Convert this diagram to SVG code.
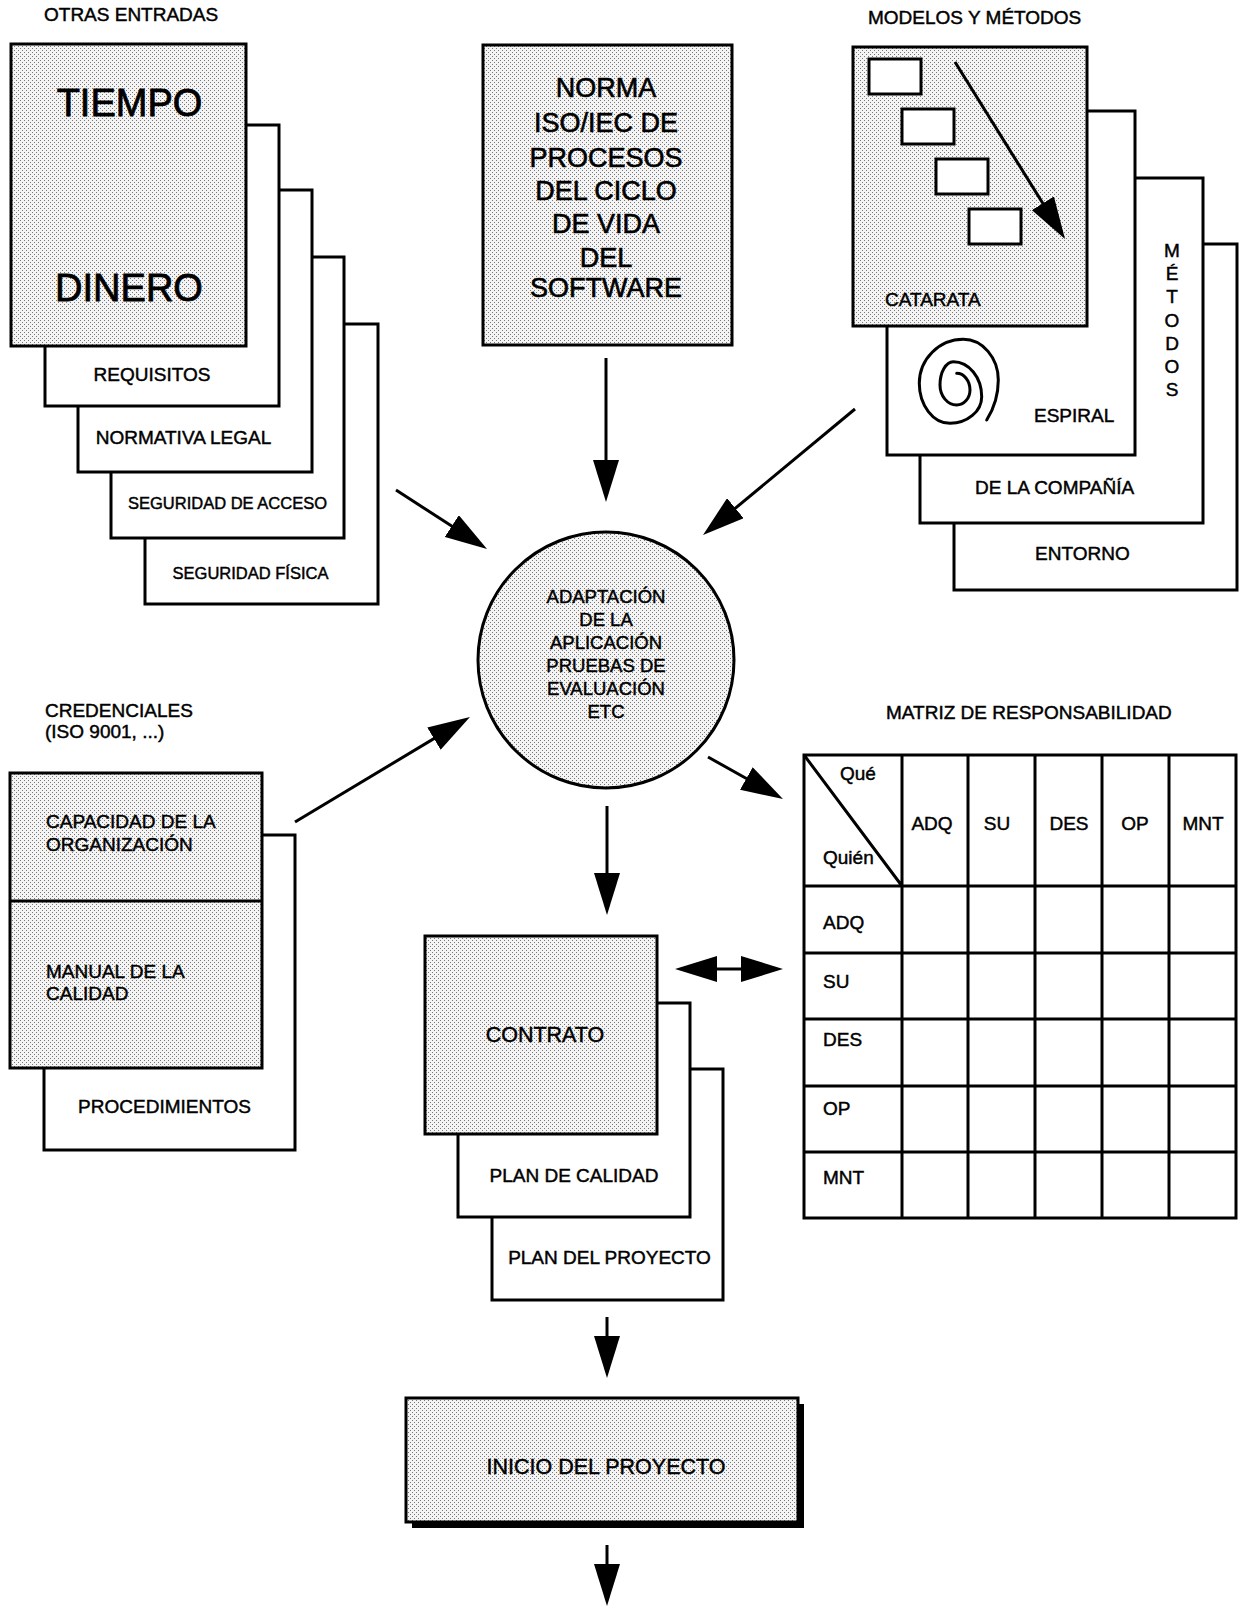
<svg xmlns="http://www.w3.org/2000/svg" width="1240" height="1607" viewBox="0 0 1240 1607">
<defs>
<pattern id="dots" width="4" height="4" patternUnits="userSpaceOnUse">
<rect width="4" height="4" fill="#f4f4f4"/>
<rect width="1" height="1" fill="#777"/>
<rect x="2" y="2" width="1" height="1" fill="#777"/>
</pattern>
<marker id="ah" markerUnits="userSpaceOnUse" markerWidth="42" markerHeight="26" viewBox="0 0 42 26" refX="34" refY="13" orient="auto-start-reverse">
<path d="M0,0 L42,13 L0,26 z" fill="#000"/>
</marker>
<style>
.box{fill:#fff;stroke:#000;stroke-width:3}
.shade{fill:url(#dots);stroke:#000;stroke-width:3}
.t{font-family:"Liberation Sans",Arial,Helvetica,sans-serif;font-size:19px;fill:#000;stroke:#000;stroke-width:0.45}
.c{text-anchor:middle}
.s{font-size:16.5px}
.big{font-size:38px;stroke-width:0.8}
.norma{font-size:27px;stroke-width:0.6}
.mid{font-size:21.5px}
.circ{font-size:18.5px}
.con{stroke:#000;stroke-width:3;fill:none;marker-end:url(#ah)}
.grid{stroke:#000;stroke-width:3;fill:none}
</style>
</defs>
<rect width="1240" height="1607" fill="#fff"/>

<g id="otras-entradas">
<text class="t" x="44" y="21">OTRAS ENTRADAS</text>
<g id="seguridad-fisica"><rect class="box" x="145" y="324" width="233" height="280"/><text class="t s c" x="250.5" y="579">SEGURIDAD FÍSICA</text></g>
<g id="seguridad-acceso"><rect class="box" x="111" y="257" width="233" height="281"/><text class="t s c" x="227.5" y="509">SEGURIDAD DE ACCESO</text></g>
<g id="normativa-legal"><rect class="box" x="78" y="190" width="234" height="282"/><text class="t c" x="183.5" y="444">NORMATIVA LEGAL</text></g>
<g id="requisitos"><rect class="box" x="45" y="125" width="234" height="281"/><text class="t c" x="152" y="381">REQUISITOS</text></g>
<g id="tiempo-dinero"><rect class="shade" x="11" y="44" width="235" height="302"/><text class="t big c" x="129.5" y="116">TIEMPO</text><text class="t big c" x="129" y="301">DINERO</text></g>
</g>

<g id="norma-iso">
<rect class="shade" x="483" y="45" width="249" height="300"/>
<text class="t norma c" x="606" y="96.7">NORMA</text>
<text class="t norma c" x="606" y="131.7">ISO/IEC DE</text>
<text class="t norma c" x="606" y="166.7">PROCESOS</text>
<text class="t norma c" x="606" y="200">DEL CICLO</text>
<text class="t norma c" x="606" y="233.3">DE VIDA</text>
<text class="t norma c" x="606" y="266.7">DEL</text>
<text class="t norma c" x="606" y="296.7">SOFTWARE</text>
</g>

<g id="modelos-metodos">
<text class="t" x="868" y="24">MODELOS Y MÉTODOS</text>
<g id="entorno"><rect class="box" x="954" y="244" width="283" height="346"/><text class="t" x="1035" y="560">ENTORNO</text></g>
<g id="compania"><rect class="box" x="920" y="178" width="283" height="345"/><text class="t" x="975" y="494">DE LA COMPAÑÍA</text>
<text class="t c" x="1172" y="257">M</text><text class="t c" x="1172" y="280">É</text><text class="t c" x="1172" y="303">T</text><text class="t c" x="1172" y="326.5">O</text><text class="t c" x="1172" y="350">D</text><text class="t c" x="1172" y="373">O</text><text class="t c" x="1172" y="396">S</text></g>
<g id="espiral"><rect class="box" x="887" y="111" width="248" height="344"/>
<path d="M986.7,420 C993,410 998.3,395 998.3,380 C998.3,357.9 982.6,339.3 963.3,339.3 C939.1,339.3 919.3,359.1 919.3,383.3 C919.3,405.3 933.1,423.3 950,423.3 C967.4,423.3 981.7,411.3 981.7,396.7 C981.7,377.4 968.9,361.7 953.3,361.7 C946,361.7 940,372.2 940,385 C940,396 947.5,405 956.7,405 C964,405 970,398.3 970,390 C970,380.8 964,373.3 956.7,373.3" fill="none" stroke="#000" stroke-width="3" stroke-linecap="round"/>
<text class="t" x="1034" y="422">ESPIRAL</text></g>
<g id="catarata"><rect class="shade" x="853" y="47" width="234" height="279"/>
<rect class="box" x="869" y="59" width="52" height="35"/>
<rect class="box" x="902" y="109" width="52" height="35"/>
<rect class="box" x="936" y="159" width="52" height="35"/>
<rect class="box" x="969" y="209" width="52" height="35"/>
<line class="con" x1="955" y1="62" x2="1060.8" y2="232.2"/>
<text class="t" x="885" y="306">CATARATA</text></g>
</g>

<g id="adaptacion">
<circle class="shade" cx="606" cy="660" r="128"/>
<text class="t circ c" x="606" y="603">ADAPTACIÓN</text>
<text class="t circ c" x="606" y="626">DE LA</text>
<text class="t circ c" x="606" y="649">APLICACIÓN</text>
<text class="t circ c" x="606" y="672">PRUEBAS DE</text>
<text class="t circ c" x="606" y="695">EVALUACIÓN</text>
<text class="t circ c" x="606" y="718">ETC</text>
</g>

<g id="credenciales">
<text class="t" x="45" y="717">CREDENCIALES</text>
<text class="t" x="45" y="738">(ISO 9001, ...)</text>
<g id="procedimientos"><rect class="box" x="44" y="835" width="251" height="315"/><text class="t c" x="164.5" y="1113">PROCEDIMIENTOS</text></g>
<g id="capacidad-manual"><rect class="shade" x="10" y="773" width="252" height="295"/><line x1="10" y1="901" x2="262" y2="901" stroke="#000" stroke-width="3"/>
<text class="t" x="46" y="828">CAPACIDAD DE LA</text>
<text class="t" x="46" y="851">ORGANIZACIÓN</text>
<text class="t" x="46" y="978">MANUAL DE LA</text>
<text class="t" x="46" y="1000">CALIDAD</text></g>
</g>

<g id="matriz">
<text class="t" x="886" y="719">MATRIZ DE RESPONSABILIDAD</text>
<rect class="grid" x="804" y="755" width="432" height="463"/>
<path class="grid" d="M902,755V1218 M968,755V1218 M1035,755V1218 M1102,755V1218 M1169,755V1218 M804,886H1236 M804,953H1236 M804,1019H1236 M804,1086H1236 M804,1152H1236 M804,755L902,886"/>
<text class="t" x="840" y="780">Qué</text>
<text class="t" x="823" y="864">Quién</text>
<text class="t c" x="932" y="830">ADQ</text>
<text class="t c" x="997" y="830">SU</text>
<text class="t c" x="1069" y="830">DES</text>
<text class="t c" x="1135" y="830">OP</text>
<text class="t c" x="1203" y="830">MNT</text>
<text class="t" x="823" y="929">ADQ</text>
<text class="t" x="823" y="988">SU</text>
<text class="t" x="823" y="1046">DES</text>
<text class="t" x="823" y="1115">OP</text>
<text class="t" x="823" y="1184">MNT</text>
</g>

<g id="contrato-planes">
<g id="plan-proyecto"><rect class="box" x="492" y="1069" width="231" height="231"/><text class="t c" x="609.5" y="1264">PLAN DEL PROYECTO</text></g>
<g id="plan-calidad"><rect class="box" x="458" y="1003" width="232" height="214"/><text class="t c" x="574" y="1182">PLAN DE CALIDAD</text></g>
<g id="contrato"><rect class="shade" x="425" y="936" width="232" height="198"/><text class="t mid c" x="545" y="1042">CONTRATO</text></g>
</g>

<g id="inicio-proyecto">
<rect x="412" y="1404" width="392" height="124" fill="#000"/>
<rect class="shade" x="406" y="1398" width="392" height="124"/>
<text class="t mid c" x="606" y="1474">INICIO DEL PROYECTO</text>
</g>

<g id="connectors">
<line class="con" x1="606" y1="358" x2="606" y2="494"/>
<line class="con" x1="396" y1="490" x2="480.3" y2="544.6"/>
<line class="con" x1="855" y1="409" x2="709.2" y2="529.9"/>
<line class="con" x1="295" y1="822" x2="463.1" y2="721.1"/>
<line class="con" x1="708" y1="757" x2="776" y2="795.1"/>
<line class="con" x1="607" y1="806" x2="607" y2="907"/>
<line class="con" x1="683" y1="969" x2="775" y2="969" marker-start="url(#ah)"/>
<line class="con" x1="607" y1="1317" x2="607" y2="1370"/>
<line class="con" x1="607" y1="1545" x2="607" y2="1598"/>
</g>
</svg>
